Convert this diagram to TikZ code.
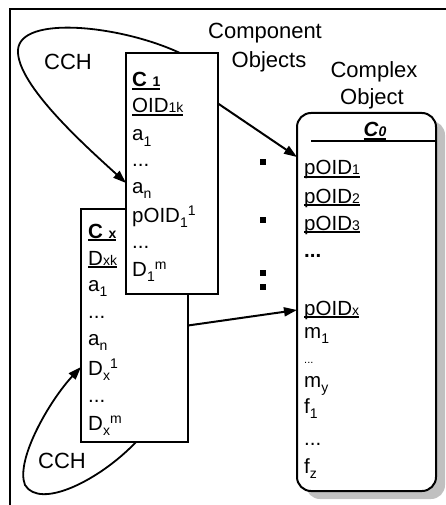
\documentclass[tikz,border=0pt]{standalone}
\usepackage{fontspec}
\setmainfont{Liberation Sans}
\usetikzlibrary{arrows.meta,shadows}

\definecolor{shadowgray}{RGB}{192,192,192}

% text sizes
\newcommand\bodysize{\fontsize{20.5}{24}\selectfont}
\newcommand\labelsize{\fontsize{22}{26}\selectfont}
% small index sitting on the baseline, lowered subscript, raised superscript
\newcommand\idxsm[1]{{\fontsize{14}{16}\selectfont #1}}
\newcommand\idxdn[1]{\raisebox{-5.5pt}{\fontsize{14}{16}\selectfont #1}}
\newcommand\idxup[1]{\raisebox{7pt}{\fontsize{14}{16}\selectfont #1}}
% thick underline
\newcommand\ulbar[1]{\setbox0\hbox{#1}\rlap{\rule[-3pt]{\wd0}{1.8pt}}\box0}

\begin{document}
\begin{tikzpicture}[x=1pt,y=-1pt,
  box/.style={draw,line width=2pt,fill=white,inner sep=0pt,outer sep=0pt},
  txt/.style={anchor=base west,inner sep=0pt,font=\bodysize},
  lbl/.style={anchor=base,inner sep=0pt,font=\labelsize},
  tip/.style={-{Triangle[length=13pt,width=9pt]}},
  arr/.style={tip,line width=2pt},
  loop/.style={tip,line width=1.8pt},
  dotmark/.style={fill=black,inner sep=0pt,minimum size=6pt}]
\useasboundingbox (0,0) rectangle (446,505);

% frame
\begin{scope}
  \clip (0,0) rectangle (446,505);
  \draw[line width=2pt] (10,520) -- (10,9) -- (460,9);
\end{scope}

% component object C x (drawn first, partly covered by C 1)
\node[box,minimum width=107pt,minimum height=233pt] (cx) at (134.5,325.5) {};
\node[txt] (cxname) at (88,238) {\ulbar{\textbf{C \idxsm{x}}}};
\node[txt] (cxkey)  at (88,265) {\ulbar{D\idxsm{xk}}};
\node[txt] (cxa1)   at (88,291) {a\idxdn{1}};
\node[txt] (cxd1)   at (88,318) {...};
\node[txt] (cxan)   at (88,345) {a\idxdn{n}};
\node[txt] (cxD1)   at (88,375) {D\idxdn{x}\idxup{1}};
\node[txt] (cxd2)   at (88,402) {...};
\node[txt] (cxDm)   at (88,430) {D\idxdn{x}\idxup{m}};

% component object C 1
\node[box,minimum width=92pt,minimum height=241pt] (c1) at (172,173.5) {};
\node[txt] (c1name) at (132,87)  {\ulbar{\textbf{C \idxsm{1}}}};
\node[txt] (c1key)  at (132,113) {\ulbar{OID\idxsm{1k}}};
\node[txt] (c1a1)   at (132,141) {a\idxdn{1}};
\node[txt] (c1d1)   at (132,166) {...};
\node[txt] (c1an)   at (132,193) {a\idxdn{n}};
\node[txt] (c1p)    at (132,222) {pOID\idxdn{1}\idxup{1}};
\node[txt] (c1d2)   at (132,248) {...};
\node[txt] (c1Dm)   at (132,276) {D\idxdn{1}\idxup{m}};

% complex object C0
\node[box,rounded corners=14pt,minimum width=139pt,minimum height=378pt,
  drop shadow={shadow xshift=9pt,shadow yshift=-8pt,fill=shadowgray,opacity=1}] (co) at (366.5,302) {};
\node[anchor=base,inner sep=0pt,font=\bodysize] (coname) at (375,137) {\ulbar{\textbf{\textit{C\idxsm{0}}}}};
\coordinate (hdrL) at (311,141);
\draw[line width=2pt] (hdrL) -- (hdrL -| co.east);
\node[txt] (cop1) at (304,175) {\ulbar{pOID\idxsm{1}}};
\node[txt] (cop2) at (304,203) {\ulbar{pOID\idxsm{2}}};
\node[txt] (cop3) at (304,230) {\ulbar{pOID\idxsm{3}}};
\node[txt] (cod1) at (304,257) {\textbf{...}};
\node[txt] (copx) at (304,315) {\ulbar{pOID\idxsm{x}}};
\node[txt] (com1) at (304,338) {m\idxdn{1}};
\node[txt] (cod2) at (304,363) {\fontsize{11}{12}\selectfont ...};
\node[txt] (comy) at (304,387) {m\idxdn{y}};
\node[txt] (cof1) at (304,413) {f\idxdn{1}};
\node[txt] (cod3) at (304,445) {...};
\node[txt] (cofz) at (304,473) {f\idxdn{z}};

% ellipsis marks between the columns
\node[dotmark] (m1) at (262.5,162) {};
\node[dotmark] (m2) at (262.5,220) {};
\node[dotmark] (m3) at (262.5,273) {};
\node[dotmark] (m4) at (262.5,287) {};

% captions
\node[lbl] (capcomp1) at (265,39)  {Component};
\node[lbl] (capcomp2) at (269,68)  {Objects};
\node[lbl] (capcplx1) at (374,78)  {Complex};
\node[lbl] (capcplx2) at (372,105) {Object};
\node[lbl] (cchtop)   at (68,70)   {CCH};
\node[lbl] (cchbot)   at (62,468)  {CCH};

% references to the complex object
\draw[arr] ([yshift=70pt]c1.east) -- ([yshift=145pt]co.west);
\draw[arr] (cx.east) -- ([yshift=-8pt]co.west);

% CCH loops
\draw[loop] ([xshift=8pt]c1.north)
  .. controls (120,25) and (20,15) .. (18,50)
  .. controls (16,85) and (90,150) .. ([yshift=-9.5pt]c1.west);
\draw[loop] ([xshift=1.5pt]cx.south)
  .. controls (100,480) and (40,510) .. (25,485)
  .. controls (15,460) and (50,400) .. ([yshift=-41.5pt]cx.west);
\end{tikzpicture}
\end{document}
